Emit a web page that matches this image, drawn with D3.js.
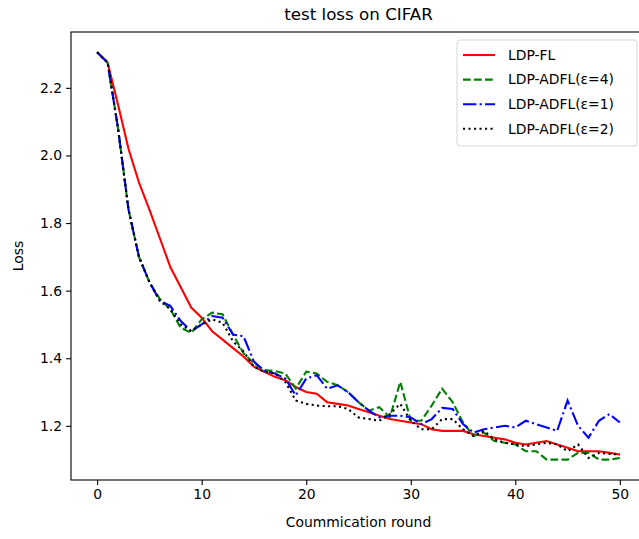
<!DOCTYPE html>
<html>
<head>
<meta charset="utf-8">
<script src="https://cdn.jsdelivr.net/npm/d3@7"></script>
<style>
  body { margin: 0; background: #fff; }
  svg text { font-family: "DejaVu Sans", sans-serif; fill: #000; }
</style>
</head>
<body>
<svg id="chart"></svg>
<script>
// rounds 0..50
const rounds = d3.range(0, 51);

const ldpFL = [2.305, 2.275, 2.15, 2.02, 1.92, 1.84, 1.755, 1.67, 1.61, 1.55,
  1.52, 1.48, 1.455, 1.43, 1.405, 1.375, 1.36, 1.345, 1.335, 1.315,
  1.30, 1.295, 1.27, 1.265, 1.26, 1.25, 1.24, 1.23, 1.22, 1.215,
  1.21, 1.205, 1.19, 1.185, 1.185, 1.185, 1.175, 1.17, 1.165, 1.16,
  1.15, 1.145, 1.15, 1.155, 1.145, 1.135, 1.125, 1.125, 1.125, 1.12, 1.115];

const adflEps4 = [2.305, 2.275, 2.08, 1.84, 1.70, 1.625, 1.575, 1.545, 1.49, 1.475,
  1.515, 1.535, 1.53, 1.47, 1.415, 1.385, 1.365, 1.362, 1.355, 1.31,
  1.36, 1.355, 1.33, 1.32, 1.30, 1.27, 1.245, 1.255, 1.225, 1.33,
  1.215, 1.215, 1.26, 1.31, 1.27, 1.21, 1.17, 1.18, 1.155, 1.15,
  1.145, 1.125, 1.125, 1.10, 1.10, 1.10, 1.12, 1.12, 1.10, 1.10, 1.105];

const adflEps1 = [2.305, 2.275, 2.08, 1.84, 1.70, 1.625, 1.57, 1.555, 1.51, 1.48,
  1.50, 1.525, 1.52, 1.47, 1.465, 1.39, 1.362, 1.355, 1.34, 1.29,
  1.34, 1.35, 1.31, 1.32, 1.30, 1.27, 1.245, 1.225, 1.23, 1.23,
  1.225, 1.205, 1.22, 1.253, 1.25, 1.205, 1.18, 1.19, 1.195, 1.20,
  1.195, 1.215, 1.205, 1.195, 1.185, 1.275, 1.20, 1.165, 1.215, 1.235, 1.21];

const adflEps2 = [2.305, 2.275, 2.08, 1.84, 1.70, 1.625, 1.57, 1.545, 1.50, 1.48,
  1.50, 1.515, 1.505, 1.45, 1.42, 1.375, 1.36, 1.355, 1.33, 1.275,
  1.265, 1.26, 1.258, 1.258, 1.25, 1.225, 1.22, 1.215, 1.235, 1.265,
  1.215, 1.19, 1.19, 1.22, 1.22, 1.19, 1.17, 1.185, 1.16, 1.15,
  1.145, 1.14, 1.145, 1.15, 1.145, 1.125, 1.145, 1.105, 1.12, 1.117, 1.115];

const seriesNames = ["LDP-FL", "LDP-ADFL(ε=4)", "LDP-ADFL(ε=1)", "LDP-ADFL(ε=2)"];
const xTicks = [0, 10, 20, 30, 40, 50];
const yTicks = [1.2, 1.4, 1.6, 1.8, 2.0, 2.2];

// matplotlib-like styles
const styles = [
  { color: "#ff0000", dash: null },
  { color: "#008000", dash: "7.7,3.3" },
  { color: "#0000ff", dash: "13.3,3.3,2.1,3.3" },
  { color: "#000000", dash: "2.1,3.4" }
];

const W = 639, H = 539;
const margin = { top: 32, right: -7, bottom: 59, left: 71 };
const x0 = margin.left, x1 = W - margin.right;
const y0 = margin.top, y1 = H - margin.bottom;

const svg = d3.select("#chart").attr("width", W).attr("height", H);

const allSeries = [ldpFL, adflEps4, adflEps1, adflEps2];
const vmin = d3.min(allSeries, s => d3.min(s));
const vmax = d3.max(allSeries, s => d3.max(s));
const pad = (vmax - vmin) * 0.05;

const x = d3.scaleLinear().domain([-2.5, 52.5]).range([x0, x1]);
const y = d3.scaleLinear().domain([vmin - pad, vmax + pad]).range([y1, y0]);

// lines
const line = d3.line().x((d, i) => x(rounds[i])).y(d => y(d));

svg.append("defs").append("clipPath").attr("id", "clip")
  .append("rect").attr("x", x0).attr("y", y0).attr("width", x1 - x0).attr("height", y1 - y0);

const plot = svg.append("g").attr("clip-path", "url(#clip)");
allSeries.forEach((s, k) => {
  plot.append("path")
    .datum(s)
    .attr("fill", "none")
    .attr("stroke", styles[k].color)
    .attr("stroke-width", 2.1)
    .attr("stroke-dasharray", styles[k].dash)
    .attr("d", line);
});

// axes
const xAxis = svg.append("g")
  .attr("transform", `translate(0,${y1})`)
  .call(d3.axisBottom(x).tickValues(xTicks).tickSize(4.9).tickPadding(4).tickFormat(d3.format("d")));
const yAxis = svg.append("g")
  .attr("transform", `translate(${x0},0)`)
  .call(d3.axisLeft(y).tickValues(yTicks).tickSize(4.9).tickPadding(4).tickFormat(d3.format(".1f")));
[xAxis, yAxis].forEach(a => {
  a.select(".domain").remove();
  a.selectAll("line").attr("stroke", "#000").attr("stroke-width", 1.1);
  a.selectAll("text").style("font-size", "13.9px").attr("fill", "#000");
});

// frame
svg.append("rect")
  .attr("x", x0).attr("y", y0)
  .attr("width", x1 - x0).attr("height", y1 - y0)
  .attr("fill", "none").attr("stroke", "#000").attr("stroke-width", 1.1);

// labels
svg.append("text")
  .attr("x", (x0 + x1) / 2).attr("y", 20)
  .attr("text-anchor", "middle")
  .style("font-size", "16.7px")
  .text("test loss on CIFAR");

svg.append("text")
  .attr("x", (x0 + x1) / 2).attr("y", 527)
  .attr("text-anchor", "middle")
  .style("font-size", "13.9px")
  .text("Coummication round");

svg.append("text")
  .attr("transform", `translate(23,${(y0 + y1) / 2}) rotate(-90)`)
  .attr("text-anchor", "middle")
  .style("font-size", "13.9px")
  .text("Loss");

// legend
const lg = svg.append("g").attr("transform", "translate(457,40)");
lg.append("rect")
  .attr("x", 0).attr("y", 0).attr("width", 180).attr("height", 106)
  .attr("rx", 3)
  .attr("fill", "#fff").attr("fill-opacity", 0.8)
  .attr("stroke", "#d6d6d6").attr("stroke-width", 1);

seriesNames.forEach((name, k) => {
  const cy = 15 + k * 24.6;
  lg.append("line")
    .attr("x1", 6).attr("x2", 38).attr("y1", cy).attr("y2", cy)
    .attr("stroke", styles[k].color)
    .attr("stroke-width", 2.1)
    .attr("stroke-dasharray", styles[k].dash);
  lg.append("text")
    .attr("x", 51).attr("y", cy)
    .attr("dy", "0.35em")
    .style("font-size", "13.9px")
    .text(name);
});
</script>
</body>
</html>
